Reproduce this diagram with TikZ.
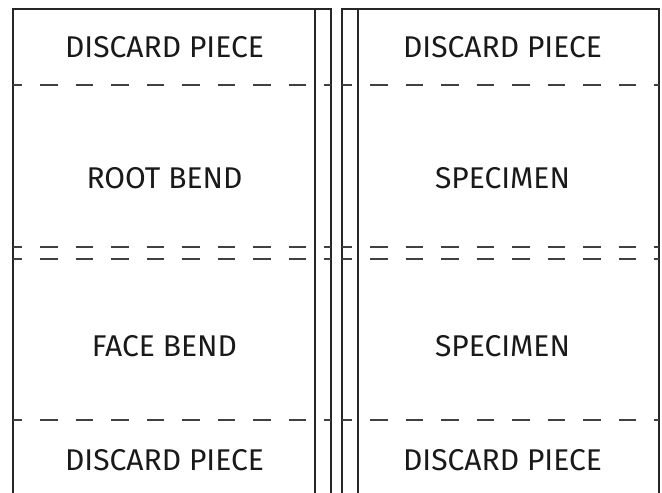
\documentclass[tikz,border=0pt]{standalone}
\usepackage{fontspec}
\setmainfont{Fira Sans}
\begin{document}
\begin{tikzpicture}[x=1pt,y=-1pt,
  solidline/.style={line width=2pt,black!85},
  cutline/.style={line width=1.5pt,black!75,dash pattern=on 17.5pt off 18pt},
  label/.style={font=\fontsize{30}{34}\selectfont,text=black!90,inner sep=0pt}]
\useasboundingbox (0,0) rectangle (662,493);
% left panel
\draw[solidline] (13,493) -- (13,9) -- (331,9) -- (331,493);
\draw[solidline] (315,9) -- (315,493);
% right panel
\draw[solidline] (342,493) -- (342,9) -- (659,9) -- (659,493);
\draw[solidline] (358,9) -- (358,493);
% dashed cut lines
\foreach \yy in {85,247,259,420}{
  \draw[cutline,dash phase=8.5pt] (13,\yy) -- (331,\yy);
  \draw[cutline,dash phase=7.5pt] (342,\yy) -- (659,\yy);
}
% labels
\node[label] (l1) at (164.5,47) {DISCARD PIECE};
\node[label] (l2) at (164.5,178) {ROOT BEND};
\node[label] (l3) at (164.5,346) {FACE BEND};
\node[label] (l4) at (164.5,460) {DISCARD PIECE};
\node[label] (r1) at (502.5,47) {DISCARD PIECE};
\node[label] (r2) at (502.5,178) {SPECIMEN};
\node[label] (r3) at (502.5,346) {SPECIMEN};
\node[label] (r4) at (502.5,460) {DISCARD PIECE};
\end{tikzpicture}
\end{document}
